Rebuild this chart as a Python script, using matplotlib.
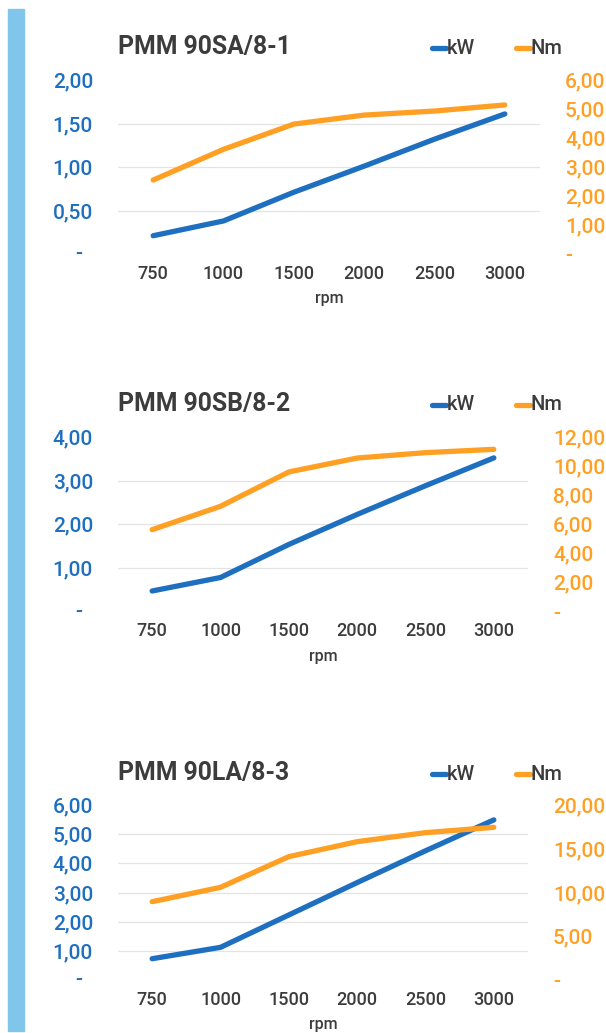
import matplotlib
matplotlib.use("Agg")
import matplotlib.pyplot as plt
import matplotlib.transforms as mtrans
from matplotlib.ticker import FixedLocator, FuncFormatter
from matplotlib.lines import Line2D

plt.rcParams['font.family'] = ['Roboto', 'DejaVu Sans']

rpm = ["750", "1000", "1500", "2000", "2500", "3000"]

titles = ["PMM 90SA/8-1", "PMM 90SB/8-2", "PMM 90LA/8-3"]

kw_1 = [0.21, 0.38, 0.71, 1.01, 1.32, 1.61]
nm_1 = [2.55, 3.61, 4.48, 4.79, 4.93, 5.14]

kw_2 = [0.46, 0.77, 1.53, 2.22, 2.88, 3.52]
nm_2 = [5.61, 7.22, 9.59, 10.55, 10.92, 11.15]

kw_3 = [0.73, 1.12, 2.23, 3.34, 4.43, 5.49]
nm_3 = [8.95, 10.59, 14.10, 15.81, 16.84, 17.45]

left_ticks = [[0, 0.5, 1.0, 1.5, 2.0], [0, 1, 2, 3, 4], [0, 1, 2, 3, 4, 5, 6]]
right_ticks = [[0, 1, 2, 3, 4, 5, 6], [0, 2, 4, 6, 8, 10, 12], [0, 5, 10, 15, 20]]

kw_all = [kw_1, kw_2, kw_3]
nm_all = [nm_1, nm_2, nm_3]

BLUE = "#1F6FC1"
ORANGE = "#FFA024"
GREY = "#3C3C3C"
GRID = "#E4E4E4"

W, H = 606, 1033
fig = plt.figure(figsize=(W / 100, H / 100), dpi=100)

# decorative left bar
fig.patches.append(plt.Rectangle((8 / W, 1 - 1031 / H), 16 / W, (1031 - 9) / H,
                                 transform=fig.transFigure, color="#80C6EA", zorder=0))

# layout in pixels: x0, x1, ytop, ybottom, title y, rpm y
layouts = [
    (118, 540, 80, 254, 47, 298),
    (118, 528, 437, 611, 404, 656),
    (118, 528, 805, 980, 773, 1025),
]


def fmt(v, pos):
    if abs(v) < 1e-9:
        return "-"
    return f"{v:.2f}".replace(".", ",")


for i in range(3):
    x0, x1, yt, yb, ty, ry = layouts[i]
    ax = fig.add_axes([x0 / W, 1 - yb / H, (x1 - x0) / W, (yb - yt) / H])
    ax2 = ax.twinx()
    xs = list(range(len(rpm)))
    ax.plot(xs, kw_all[i], color=BLUE, lw=3.8, solid_capstyle='round', zorder=3)
    ax2.plot(xs, nm_all[i], color=ORANGE, lw=3.8, solid_capstyle='round', zorder=3)

    ax.set_xlim(-0.5, len(rpm) - 0.5)
    lt = left_ticks[i]
    rt = right_ticks[i]
    ax.set_ylim(lt[0], lt[-1])
    ax2.set_ylim(rt[0], rt[-1])
    ax.yaxis.set_major_locator(FixedLocator(lt))
    ax2.yaxis.set_major_locator(FixedLocator(rt))
    ax.yaxis.set_major_formatter(FuncFormatter(lambda v, p: "" if abs(v) < 1e-9 else fmt(v, p)))
    ax2.yaxis.set_major_formatter(FuncFormatter(fmt))
    ax.set_xticks(xs)
    ax.set_xticklabels(rpm)

    for a in (ax, ax2):
        for s in a.spines.values():
            s.set_visible(False)
        a.tick_params(length=0)
    ax.tick_params(axis='y', colors=BLUE, labelsize=15, pad=18)
    ax2.tick_params(axis='y', colors=ORANGE, labelsize=15, pad=18)
    ax.tick_params(axis='x', colors=GREY, labelsize=13, pad=8)
    for lab in ax.get_yticklabels() + ax2.get_yticklabels() + ax.get_xticklabels():
        lab.set_fontweight('medium')

    # gridlines at interior ticks
    for v in lt[1:-1]:
        ax.axhline(v, color=GRID, lw=0.9, zorder=1)

    # zero label for the left axis
    tr = mtrans.blended_transform_factory(fig.transFigure, ax.transData)
    ax.text(78.5 / W, 0, "-", transform=tr, ha='center', va='center',
            color=BLUE, fontsize=15, fontweight='medium')

    fig.text(x0 / W, 1 - ty / H, titles[i], ha='left', va='center',
             fontsize=17.8, fontweight='bold', color=GREY)
    fig.text((x0 + x1) / 2 / W, 1 - ry / H, "rpm", ha='center', va='center',
             fontsize=11.5, color=GREY, fontweight='medium')

    # legend
    yl = 1 - (ty + 1) / H
    fig.lines.append(Line2D([432 / W, 446 / W], [yl, yl], transform=fig.transFigure,
                            color=BLUE, lw=3.8, solid_capstyle='round'))
    fig.text(447 / W, yl, "kW", ha='left', va='center', fontsize=14.5,
             color=GREY, fontweight='medium')
    fig.lines.append(Line2D([516 / W, 530 / W], [yl, yl], transform=fig.transFigure,
                            color=ORANGE, lw=3.8, solid_capstyle='round'))
    fig.text(530 / W, yl, "Nm", ha='left', va='center', fontsize=14.5,
             color=GREY, fontweight='medium')

fig.savefig("out.png", dpi=100)
